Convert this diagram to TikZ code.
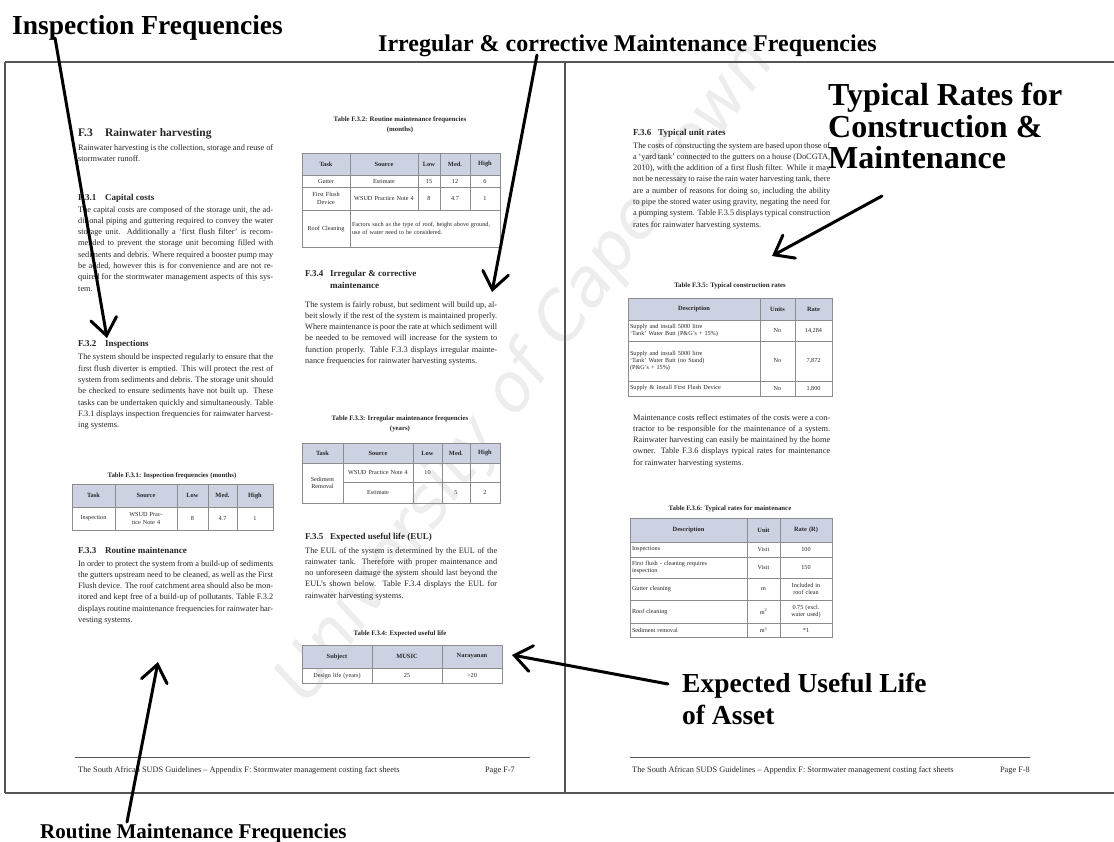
\documentclass[tikz,border=0pt]{standalone}
\usepackage{fontspec}
\setmainfont{Liberation Serif}
\newfontfamily\wmfont{DejaVu Sans}
\usetikzlibrary{arrows.meta}

\definecolor{ink}{HTML}{262626}
\definecolor{rule}{HTML}{555555}
\definecolor{hdr}{HTML}{CDD2E2}
\definecolor{grid}{HTML}{8C8C8C}
\definecolor{wm}{HTML}{EDEDED}

\tikzset{
  lbl/.style={anchor=base west, inner sep=0, text=black, align=left},
  body/.style={anchor=north west, inner sep=0, align=justify,
    font=\fontsize{8.3}{11.3}\selectfont, text=ink},
  hdtwo/.style={anchor=base west, inner sep=0,
    font=\fontsize{11.5}{13}\selectfont\bfseries, text=ink},
  hdthree/.style={anchor=base west, inner sep=0, align=left,
    font=\fontsize{9}{12}\selectfont\bfseries, text=ink},
  capt/.style={anchor=base, inner sep=0, align=center,
    font=\fontsize{6.8}{10}\selectfont\bfseries, text=ink},
  cellbox/.style={draw=grid, line width=0.6pt},
  headfill/.style={cellbox, fill=hdr},
  celltext/.style={inner sep=0, align=center,
    font=\fontsize{6.2}{7.4}\selectfont, text=ink},
  headtext/.style={celltext, font=\fontsize{6.4}{7.4}\selectfont\bfseries},
  lefttext/.style={celltext, align=left},
  frameline/.style={draw=rule, line width=1.6pt},
  footrule/.style={draw=rule, line width=0.7pt},
  foot/.style={anchor=base west, inner sep=0, font=\fontsize{8.3}{10}\selectfont, text=ink},
  wmword/.style={anchor=base west, rotate=54, inner sep=0, text=wm,
    font=\wmfont\itshape\fontsize{66}{66}\selectfont},
  pointer/.style={line width=3pt, line cap=round,
    -{Straight Barb[length=17pt,width=26pt,line cap=round]}},
}

% generic table cell: {box style}{text style}{name}{x1}{x2}{y1}{y2}{text}
\newcommand\gcell[8]{%
  \pgfmathsetmacro\cellX{((#4)+(#5))/2}%
  \pgfmathsetmacro\cellY{((#6)+(#7))/2}%
  \pgfmathsetmacro\cellT{(#5)-(#4)-4}%
  \path[#1] (#4,#6) rectangle (#5,#7);
  \node[#2, text width=\cellT pt] (#3) at (\cellX,\cellY) {#8};}
\newcommand\hcell{\gcell{headfill}{headtext}}
\newcommand\tcell{\gcell{cellbox}{celltext}}
\newcommand\lcell{\gcell{cellbox}{lefttext}}

\begin{document}
\begin{tikzpicture}[x=1pt,y=-1pt]
\useasboundingbox[fill=white] (0,0) rectangle (1114,842);

% faint diagonal watermark behind the pages, one word at a time
\node[wmword] (wm1) at (307,706) {University};
\node[wmword] (wm2) at (515,420) {of};
\node[wmword] (wm3) at (565,351) {Cape};
\node[wmword] (wm4) at (677,197) {Town};

% page frames
\draw[frameline] (5,62) -- (1114,62);
\draw[frameline] (5,793) -- (1114,793);
\draw[frameline] (5,62) -- (5,793);
\draw[frameline] (565,62) -- (565,793);

% ---------------- left page, first column ----------------
\node[hdtwo] (h3) at (78,137) {\makebox[27pt][l]{F.3}Rainwater harvesting};
\node[body, text width=195pt] (p1) at (78,144)
  {Rainwater harvesting is the collection, storage and reuse of stormwater runoff.};

\node[hdthree] (h31) at (78,201) {\makebox[27pt][l]{F.3.1}Capital costs};
\node[body, text width=195pt] (p2) at (78,206)
  {The capital costs are composed of the storage unit, the additional piping and guttering required to convey the water storage unit. Additionally a `first flush filter' is recommended to prevent the storage unit becoming filled with sediments and debris. Where required a booster pump may be added, however this is for convenience and are not required for the stormwater management aspects of this system.};

\node[hdthree] (h32) at (78,347) {\makebox[27pt][l]{F.3.2}Inspections};
\node[body, text width=195pt] (p3) at (78,354)
  {The system should be inspected regularly to ensure that the first flush diverter is emptied. This will protect the rest of system from sediments and debris. The storage unit should be checked to ensure sediments have not built up. These tasks can be undertaken quickly and simultaneously. Table F.3.1 displays inspection frequencies for rainwater harvesting systems.};

\node[capt] (c31) at (172,477) {Table F.3.1: Inspection frequencies (months)};
\hcell{ta1}{72}{115}{484}{507}{Task}
\hcell{ta2}{115}{177}{484}{507}{Source}
\hcell{ta3}{177}{208}{484}{507}{Low}
\hcell{ta4}{208}{237}{484}{507}{Med.}
\hcell{ta5}{237}{273}{484}{507}{High}
\tcell{tb1}{72}{115}{507}{530}{Inspection}
\tcell{tb2}{115}{177}{507}{530}{WSUD Practice Note 4}
\tcell{tb3}{177}{208}{507}{530}{8}
\tcell{tb4}{208}{237}{507}{530}{4.7}
\tcell{tb5}{237}{273}{507}{530}{1}

\node[hdthree] (h33) at (78,553) {\makebox[27pt][l]{F.3.3}Routine maintenance};
\node[body, text width=195pt] (p4) at (78,560)
  {In order to protect the system from a build-up of sediments the gutters upstream need to be cleaned, as well as the First Flush device. The roof catchment area should also be monitored and kept free of a build-up of pollutants. Table F.3.2 displays routine maintenance frequencies for rainwater harvesting systems.};

% ---------------- left page, second column ----------------
\node[capt] (c32) at (400,132) {Table F.3.2: Routine maintenance frequencies\\(months)};
\hcell{tc1}{302}{350}{153}{175}{Task}
\hcell{tc2}{350}{418}{153}{175}{Source}
\hcell{tc3}{418}{440}{153}{175}{Low}
\hcell{tc4}{440}{470}{153}{175}{Med.}
\hcell{tc5}{470}{500}{153}{175}{High}
\tcell{td1}{302}{350}{175}{187}{Gutter}
\tcell{td2}{350}{418}{175}{187}{Estimate}
\tcell{td3}{418}{440}{175}{187}{15}
\tcell{td4}{440}{470}{175}{187}{12}
\tcell{td5}{470}{500}{175}{187}{6}
\tcell{te1}{302}{350}{187}{210}{First Flush Device}
\tcell{te2}{350}{418}{187}{210}{WSUD Practice Note 4}
\tcell{te3}{418}{440}{187}{210}{8}
\tcell{te4}{440}{470}{187}{210}{4.7}
\tcell{te5}{470}{500}{187}{210}{1}
\tcell{tf1}{302}{350}{210}{247}{Roof Cleaning}
\lcell{tf2}{350}{500}{210}{247}{Factors such as the type of roof, height above ground, use of water need to be considered.}

\node[hdthree] (h34) at (305,289)
  {\makebox[25pt][l]{F.3.4}Irregular \& corrective\\\hspace*{25pt}maintenance};
\node[body, text width=192pt] (p5) at (305,301)
  {The system is fairly robust, but sediment will build up, albeit slowly if the rest of the system is maintained properly. Where maintenance is poor the rate at which sediment will be needed to be removed will increase for the system to function properly. Table F.3.3 displays irregular maintenance frequencies for rainwater harvesting systems.};

\node[capt] (c33) at (400,430) {Table F.3.3: Irregular maintenance frequencies\\(years)};
\hcell{tg1}{302}{343}{443}{463}{Task}
\hcell{tg2}{343}{413}{443}{463}{Source}
\hcell{tg3}{413}{442}{443}{463}{Low}
\hcell{tg4}{442}{470}{443}{463}{Med.}
\hcell{tg5}{470}{500}{443}{463}{High}
\tcell{th1}{302}{343}{463}{503}{Sediment Removal}
\tcell{th2}{343}{413}{463}{482}{WSUD Practice Note 4}
\tcell{th3}{413}{442}{463}{482}{10}
\tcell{th4}{442}{470}{463}{482}{}
\tcell{th5}{470}{500}{463}{482}{}
\tcell{ti2}{343}{413}{482}{503}{Estimate}
\tcell{ti3}{413}{442}{482}{503}{}
\tcell{ti4}{442}{470}{482}{503}{5}
\tcell{ti5}{470}{500}{482}{503}{2}

\node[hdthree] (h35) at (305,539) {\makebox[25pt][l]{F.3.5}Expected useful life (EUL)};
\node[body, text width=192pt] (p6) at (305,547)
  {The EUL of the system is determined by the EUL of the rainwater tank. Therefore with proper maintenance and no unforeseen damage the system should last beyond the EUL's shown below. Table F.3.4 displays the EUL for rainwater harvesting systems.};

\node[capt] (c34) at (400,635) {Table F.3.4: Expected useful life};
\hcell{tj1}{302}{372}{645}{668}{Subject}
\hcell{tj2}{372}{442}{645}{668}{MUSIC}
\hcell{tj3}{442}{502}{645}{668}{Narayanan}
\tcell{tk1}{302}{372}{668}{683}{Design life (years)}
\tcell{tk2}{372}{442}{668}{683}{25}
\tcell{tk3}{442}{502}{668}{683}{>20}

% left page footer
\draw[footrule] (75,757) -- (530,757);
\node[foot] (fl) at (78,772)
  {The South African SUDS Guidelines -- Appendix F: Stormwater management costing fact sheets};
\node[foot, anchor=base east] (fln) at (515,772) {Page F-7};

% ---------------- right page ----------------
\node[hdthree] (h36) at (633,136) {\makebox[25pt][l]{F.3.6}Typical unit rates};
\node[body, text width=197pt] (p7) at (633,142)
  {The costs of constructing the system are based upon those of a `yard tank' connected to the gutters on a house (DoCGTA, 2010), with the addition of a first flush filter. While it may not be necessary to raise the rain water harvesting tank, there are a number of reasons for doing so, including the ability to pipe the stored water using gravity, negating the need for a pumping system. Table F.3.5 displays typical construction rates for rainwater harvesting systems.};

\node[capt] (c35) at (730,288) {Table F.3.5: Typical construction rates};
\hcell{tl1}{628}{760}{298}{320}{Description}
\hcell{tl2}{760}{795}{298}{320}{Units}
\hcell{tl3}{795}{832}{298}{320}{Rate}
\lcell{tm1}{628}{760}{320}{341}{Supply and install 5000 litre\\`Tank' Water Butt (P\&G's + 15\%)}
\tcell{tm2}{760}{795}{320}{341}{No}
\tcell{tm3}{795}{832}{320}{341}{14,284}
\lcell{tn1}{628}{760}{341}{381}{Supply and install 5000 litre\\`Tank' Water Butt (no Stand)\\(P\&G's + 15\%)}
\tcell{tn2}{760}{795}{341}{381}{No}
\tcell{tn3}{795}{832}{341}{381}{7,872}
\lcell{to1}{628}{760}{381}{396}{Supply \& Install First Flush Device}
\tcell{to2}{760}{795}{381}{396}{No}
\tcell{to3}{795}{832}{381}{396}{1,800}

\node[body, text width=197pt] (p8) at (633,414)
  {Maintenance costs reflect estimates of the costs were a contractor to be responsible for the maintenance of a system. Rainwater harvesting can easily be maintained by the home owner. Table F.3.6 displays typical rates for maintenance for rainwater harvesting systems.};

\node[capt] (c36) at (730,510) {Table F.3.6: Typical rates for maintenance};
\hcell{tp1}{630}{747}{518}{542}{Description}
\hcell{tp2}{747}{780}{518}{542}{Unit}
\hcell{tp3}{780}{832}{518}{542}{Rate (R)}
\lcell{tq1}{630}{747}{542}{557}{Inspections}
\tcell{tq2}{747}{780}{542}{557}{Visit}
\tcell{tq3}{780}{832}{542}{557}{100}
\lcell{tr1}{630}{747}{557}{578}{First flush - cleaning requires\\inspection}
\tcell{tr2}{747}{780}{557}{578}{Visit}
\tcell{tr3}{780}{832}{557}{578}{150}
\lcell{ts1}{630}{747}{578}{600}{Gutter cleaning}
\tcell{ts2}{747}{780}{578}{600}{m}
\tcell{ts3}{780}{832}{578}{600}{Included in roof clean}
\lcell{tt1}{630}{747}{600}{623}{Roof cleaning}
\tcell{tt2}{747}{780}{600}{623}{m\textsuperscript{2}}
\tcell{tt3}{780}{832}{600}{623}{0.75 (excl. water used)}
\lcell{tu1}{630}{747}{623}{637}{Sediment removal}
\tcell{tu2}{747}{780}{623}{637}{m\textsuperscript{3}}
\tcell{tu3}{780}{832}{623}{637}{*1}

% right page footer
\draw[footrule] (630,757) -- (1030,757);
\node[foot] (fr) at (632,772)
  {The South African SUDS Guidelines -- Appendix F: Stormwater management costing fact sheets};
\node[foot, anchor=base east] (frn) at (1030,772) {Page F-8};

% ---------------- annotation labels (base = last line) ----------------
\node[lbl, font=\fontsize{27.5}{30}\selectfont\bfseries] (lInsp) at (12,35) {Inspection Frequencies};
\node[lbl, font=\fontsize{24}{28}\selectfont\bfseries] (lIrr) at (378,52)
  {Irregular \& corrective Maintenance Frequencies};
\node[lbl, font=\fontsize{32}{31.5}\selectfont\bfseries] (lTyp) at (828,169)
  {Typical Rates for\\Construction \&\\Maintenance};
\node[lbl, font=\fontsize{27.5}{32}\selectfont\bfseries] (lEul) at (682,724)
  {Expected Useful Life\\of Asset};
\node[lbl, font=\fontsize{21}{26}\selectfont\bfseries] (lRout) at (40,838)
  {Routine Maintenance Frequencies};

% ---------------- pointer arrows ----------------
\coordinate (aInsS) at (55,38);   \coordinate (aInsE) at (107,338);
\coordinate (aIrrS) at (537,55);  \coordinate (aIrrE) at (492,292);
\coordinate (aTypS) at (882,196); \coordinate (aTypE) at (772,256);
\coordinate (aEulS) at (668,684); \coordinate (aEulE) at (512,655);
\coordinate (aRouS) at (127,822); \coordinate (aRouE) at (158,662);
\draw[pointer] (aInsS) -- (aInsE);
\draw[pointer] (aIrrS) -- (aIrrE);
\draw[pointer] (aTypS) -- (aTypE);
\draw[pointer] (aEulS) -- (aEulE);
\draw[pointer] (aRouS) -- (aRouE);
\end{tikzpicture}
\end{document}
